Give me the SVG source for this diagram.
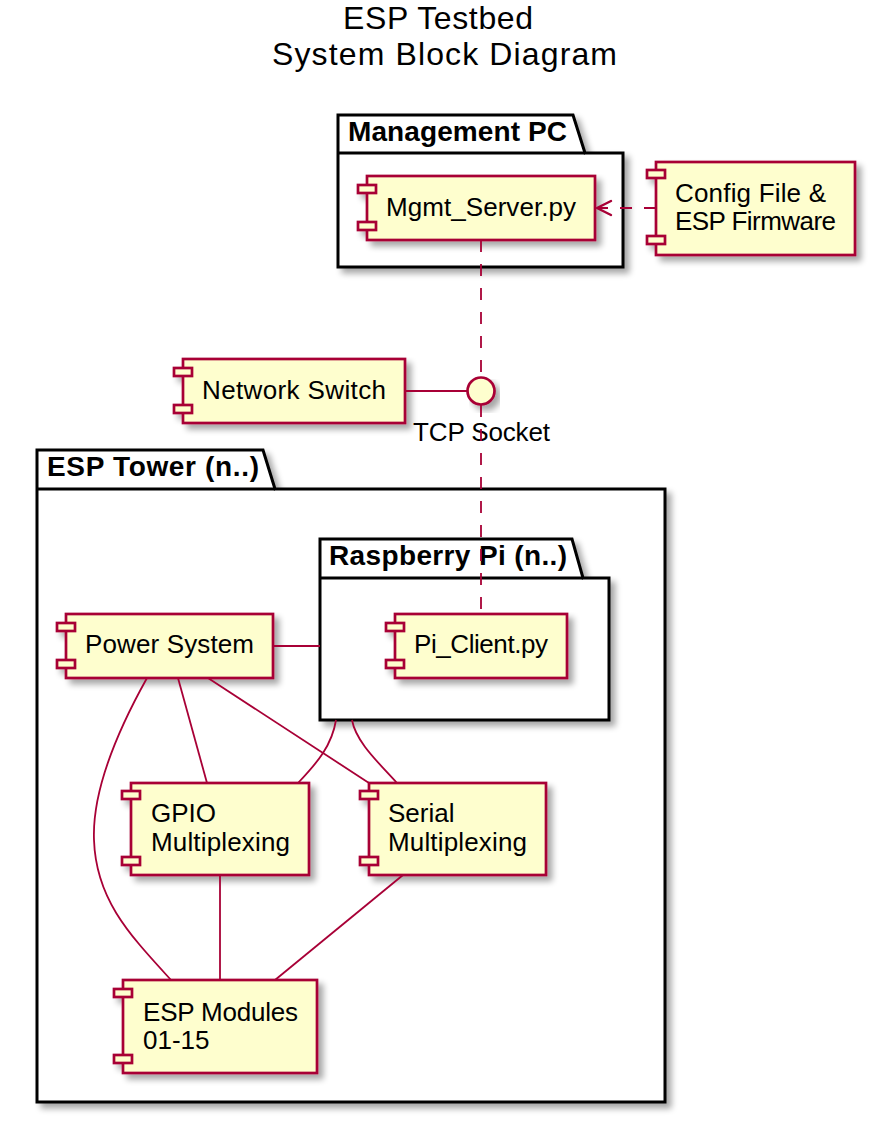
<svg xmlns="http://www.w3.org/2000/svg" width="887" height="1136" viewBox="0 0 887 1136">
<style>
text { font-family: "Liberation Sans", Arial, sans-serif; fill: #000000; }
.title { font-size: 32px; }
.pkg { fill: #FFFFFF; stroke: #000000; stroke-width: 3; }
.pkgline { fill: none; stroke: #000000; stroke-width: 3; }
.pkgl { font-size: 28px; font-weight: bold; }
.comp { fill: #FEFECE; stroke: #A80036; stroke-width: 2.7; }
.ct { font-size: 26px; }
.edge { fill: none; stroke: #A80036; stroke-width: 1.8; }
.head { fill: none; stroke: #A80036; stroke-width: 2.4; stroke-linecap: round; stroke-linejoin: round; }
.dash { stroke-dasharray: 12 12; }
</style>
<defs>
<filter id="sh" x="-10%" y="-10%" width="130%" height="140%">
<feGaussianBlur in="SourceAlpha" stdDeviation="3"/>
<feOffset dx="5" dy="5" result="o"/>
<feComponentTransfer><feFuncA type="linear" slope="0.35"/></feComponentTransfer>
<feMerge><feMergeNode/><feMergeNode in="SourceGraphic"/></feMerge>
</filter>
</defs>
<rect width="887" height="1136" fill="#FFFFFF"/>
<g id="title">
<text class="title" x="343" y="29" textLength="190">ESP Testbed</text>
<text class="title" x="272" y="65" textLength="345">System Block Diagram</text>
</g>
<g id="pkg-management-pc">
<path class="pkg" filter="url(#sh)" d="M338,115 L573,115 L585,153 L623,153 L623,267 L338,267 Z"/>
<path class="pkgline" d="M338,153 L585,153"/>
<text class="pkgl" x="348" y="141" textLength="219">Management PC</text>
</g>
<g id="pkg-esp-tower">
<path class="pkg" filter="url(#sh)" d="M37,450 L263,450 L275,489 L665,489 L665,1102 L37,1102 Z"/>
<path class="pkgline" d="M37,489 L275,489"/>
<text class="pkgl" x="47" y="476" textLength="212">ESP Tower (n..)</text>
</g>
<g id="pkg-raspberry-pi">
<path class="pkg" filter="url(#sh)" d="M320,539 L572,539 L583,578 L609,578 L609,720 L320,720 Z"/>
<path class="pkgline" d="M320,578 L583,578"/>
<text class="pkgl" x="329" y="565" textLength="238">Raspberry Pi (n..)</text>
</g>
<g id="node-mgmt-server">
<g filter="url(#sh)">
<rect class="comp" x="367" y="176" width="228" height="64"/>
<rect class="comp" x="358" y="185" width="18" height="8"/>
<rect class="comp" x="358" y="222" width="18" height="8"/>
</g>
<text class="ct" x="386" y="216" textLength="190">Mgmt_Server.py</text>
</g>
<g id="node-config">
<g filter="url(#sh)">
<rect class="comp" x="656" y="162" width="199" height="93"/>
<rect class="comp" x="647" y="170" width="18" height="8"/>
<rect class="comp" x="647" y="236" width="18" height="8"/>
</g>
<text class="ct" x="675" y="202" textLength="151">Config File &amp;</text>
<text class="ct" x="675" y="230" textLength="161">ESP Firmware</text>
</g>
<g id="node-network-switch">
<g filter="url(#sh)">
<rect class="comp" x="183" y="359" width="222" height="64"/>
<rect class="comp" x="174" y="368" width="18" height="8"/>
<rect class="comp" x="174" y="405" width="18" height="8"/>
</g>
<text class="ct" x="202" y="399" textLength="184">Network Switch</text>
</g>
<g id="node-tcp-socket">
<circle class="comp" filter="url(#sh)" cx="481" cy="391" r="13.5"/>
<text class="ct" x="413" y="441" textLength="137">TCP Socket</text>
</g>
<g id="node-power-system">
<g filter="url(#sh)">
<rect class="comp" x="66" y="614" width="207" height="64"/>
<rect class="comp" x="57" y="623" width="18" height="8"/>
<rect class="comp" x="57" y="660" width="18" height="8"/>
</g>
<text class="ct" x="85" y="653" textLength="169">Power System</text>
</g>
<g id="node-pi-client">
<g filter="url(#sh)">
<rect class="comp" x="395" y="614" width="172" height="64"/>
<rect class="comp" x="386" y="623" width="18" height="8"/>
<rect class="comp" x="386" y="660" width="18" height="8"/>
</g>
<text class="ct" x="414" y="653" textLength="134">Pi_Client.py</text>
</g>
<g id="node-gpio">
<g filter="url(#sh)">
<rect class="comp" x="131" y="783" width="178" height="92"/>
<rect class="comp" x="122" y="791" width="18" height="8"/>
<rect class="comp" x="122" y="857" width="18" height="8"/>
</g>
<text class="ct" x="151" y="822">GPIO</text>
<text class="ct" x="151" y="851" textLength="139">Multiplexing</text>
</g>
<g id="node-serial">
<g filter="url(#sh)">
<rect class="comp" x="369" y="783" width="177" height="92"/>
<rect class="comp" x="360" y="791" width="18" height="8"/>
<rect class="comp" x="360" y="857" width="18" height="8"/>
</g>
<text class="ct" x="388" y="822">Serial</text>
<text class="ct" x="388" y="851" textLength="139">Multiplexing</text>
</g>
<g id="node-esp-modules">
<g filter="url(#sh)">
<rect class="comp" x="123" y="980" width="194" height="93"/>
<rect class="comp" x="114" y="989" width="18" height="8"/>
<rect class="comp" x="114" y="1055" width="18" height="8"/>
</g>
<text class="ct" x="143" y="1021" textLength="155">ESP Modules</text>
<text class="ct" x="143" y="1049">01-15</text>
</g>
<g id="connectors">
<path class="edge dash" d="M656,208 L598,208"/>
<path class="head" d="M611,201 L597,208 L611,215"/>
<path class="edge dash" d="M481,240 L481,377"/>
<path class="edge dash" d="M481,405 L481,614"/>
<path class="edge" d="M405,391 L467,391"/>
<path class="edge" d="M273,646 L320,646"/>
<path class="edge" d="M178,678 L207,783"/>
<path class="edge" d="M208,678 L369,783"/>
<path class="edge" d="M147,678 C118,730 92,790 94,840 C96,900 130,935 171,980"/>
<path class="edge" d="M336,720 C332,745 318,762 298,783"/>
<path class="edge" d="M352,720 C356,742 378,762 397,783"/>
<path class="edge" d="M220,875 L220,980"/>
<path class="edge" d="M403,875 L275,980"/>
</g>
</svg>
